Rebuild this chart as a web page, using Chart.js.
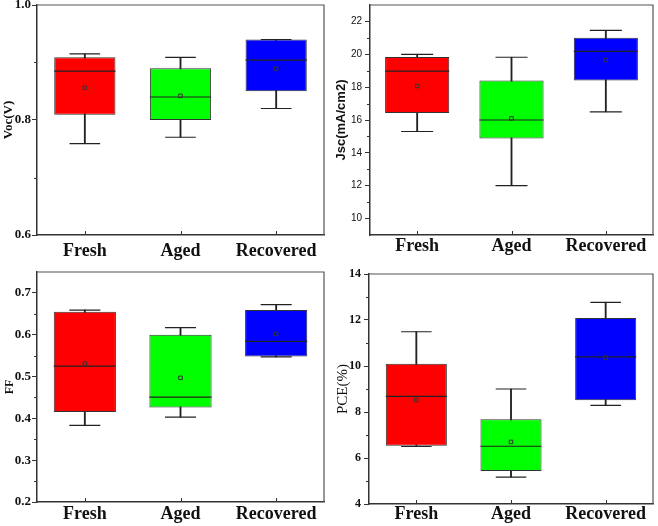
<!DOCTYPE html>
<html>
<head>
<meta charset="utf-8">
<script src="https://cdn.jsdelivr.net/npm/chart.js@4"></script>
<style>
  html, body { margin: 0; padding: 0; background: #fff; }
  #wrap { position: relative; width: 658px; height: 526px; }
  #wrap canvas { position: absolute; }
</style>
</head>
<body>
<div id="wrap">
  <canvas id="c-voc" width="329" height="263" style="left:0;top:0"></canvas>
  <canvas id="c-jsc" width="329" height="263" style="left:329px;top:0"></canvas>
  <canvas id="c-ff" width="329" height="263" style="left:0;top:263px"></canvas>
  <canvas id="c-pce" width="329" height="263" style="left:329px;top:263px"></canvas>
</div>
<script>
const categories = ['Fresh', 'Aged', 'Recovered'];

// Voc (V)
const vocMin = [0.759, 0.770, 0.820];
const vocQ1 = [0.809, 0.800, 0.850];
const vocMedian = [0.885, 0.840, 0.904];
const vocQ3 = [0.909, 0.890, 0.940];
const vocMax = [0.915, 0.909, 0.940];
const vocMean = [0.856, 0.842, 0.889];
const vocTicks = [0.6, 0.8, 1.0];
const vocMinor = [0.7, 0.9];

// Jsc (mA/cm2)
const jscMin = [15.3, 12.0, 16.5];
const jscQ1 = [16.42, 14.88, 18.4];
const jscMedian = [18.98, 16.0, 20.18];
const jscQ3 = [19.84, 18.4, 21.0];
const jscMax = [20.0, 19.82, 21.45];
const jscMean = [18.07, 16.1, 19.66];
const jscTicks = [10, 12, 14, 16, 18, 20, 22];
const jscMinor = [11, 13, 15, 17, 19, 21];

// FF
const ffMin = [0.383, 0.403, 0.547];
const ffQ1 = [0.415, 0.426, 0.548];
const ffMedian = [0.525, 0.451, 0.584];
const ffQ3 = [0.655, 0.600, 0.659];
const ffMax = [0.659, 0.617, 0.672];
const ffMean = [0.531, 0.497, 0.602];
const ffTicks = [0.2, 0.3, 0.4, 0.5, 0.6, 0.7];
const ffMinor = [0.25, 0.35, 0.45, 0.55, 0.65];

// PCE (%)
const pceMin = [6.5, 5.17, 8.29];
const pceQ1 = [6.53, 5.43, 8.51];
const pceMedian = [8.68, 6.51, 10.40];
const pceQ3 = [10.10, 7.68, 12.09];
const pceMax = [11.49, 9.0, 12.77];
const pceMean = [8.52, 6.70, 10.36];
const pceTicks = [4, 6, 8, 10, 12, 14];
const pceMinor = [5, 7, 9, 11, 13];

const boxColors = ['#ff0000', '#00ff00', '#0000ff'];
const serif = '"Liberation Serif", "Times New Roman", serif';
const sans = '"Liberation Sans", Arial, sans-serif';

const zip = (a, b) => a.map((v, i) => [v, b[i]]);

// top/right frame, minor y ticks, inward x ticks
const decor = {
  id: 'decor',
  afterDraw(chart, args, opts) {
    const { ctx, chartArea: a, scales: { x, y } } = chart;
    ctx.save();
    ctx.strokeStyle = '#555';
    ctx.lineWidth = 1.2;
    ctx.beginPath();
    ctx.moveTo(a.left, a.top);
    ctx.lineTo(a.right, a.top);
    ctx.lineTo(a.right, a.bottom);
    ctx.stroke();
    ctx.strokeStyle = '#333';
    ctx.lineWidth = 1;
    ctx.beginPath();
    opts.minor.forEach((v) => {
      const py = Math.round(y.getPixelForValue(v)) + 0.5;
      ctx.moveTo(a.left - 3, py);
      ctx.lineTo(a.left, py);
    });
    categories.forEach((c, i) => {
      const px = Math.round(x.getPixelForValue(i)) + 0.5;
      ctx.moveTo(px, a.bottom);
      ctx.lineTo(px, a.bottom - 4);
    });
    ctx.stroke();
    ctx.restore();
  },
};

function makePanel(canvasId, s, p) {
  const halfBox = (c) => {
    const x = c.chart.scales.x;
    return x ? x.width / categories.length * p.boxPct / 2 : 30;
  };
  return new Chart(document.getElementById(canvasId), {
    type: 'bar',
    data: {
      labels: categories,
      datasets: [
        {
          data: zip(s.min, s.max),
          backgroundColor: '#222',
          barThickness: 1.2,
          grouped: false,
          order: 5,
        },
        {
          data: zip(s.q1, s.q3),
          backgroundColor: boxColors,
          borderColor: '#333',
          borderWidth: 1,
          borderSkipped: false,
          barPercentage: 1,
          categoryPercentage: p.boxPct,
          grouped: false,
          order: 4,
        },
        {
          type: 'line', data: s.max, showLine: false, order: 3,
          pointStyle: 'line', pointRadius: (c) => halfBox(c) / 2,
          pointBorderColor: '#222', pointBorderWidth: 1.2,
        },
        {
          type: 'line', data: s.min, showLine: false, order: 3,
          pointStyle: 'line', pointRadius: (c) => halfBox(c) / 2,
          pointBorderColor: '#222', pointBorderWidth: 1.2,
        },
        {
          type: 'line', data: s.median, showLine: false, order: 2,
          pointStyle: 'line', pointRadius: halfBox,
          pointBorderColor: '#222', pointBorderWidth: 1.2,
        },
        {
          type: 'line', data: s.mean, showLine: false, order: 1,
          pointStyle: 'rect', pointRadius: 2.5,
          pointBackgroundColor: 'rgba(0,0,0,0)',
          pointBorderColor: '#333', pointBorderWidth: 1,
        },
      ],
    },
    options: {
      responsive: false,
      animation: false,
      events: [],
      layout: { padding: { left: 0, right: p.right, top: p.top, bottom: 0 } },
      plugins: {
        legend: { display: false },
        tooltip: { enabled: false },
        decor: { minor: s.minor },
      },
      scales: {
        x: {
          offset: true,
          grid: { display: false },
          border: { display: true, color: '#333', width: 1.5 },
          ticks: {
            color: '#111',
            font: { family: serif, size: 18, weight: 'bold' },
            padding: p.xPad,
            maxRotation: 0,
            minRotation: 0,
            autoSkip: false,
          },
          afterFit: (scale) => {
            scale.height = p.bottom;
            scale.paddingLeft = 0;
            scale.paddingRight = 0;
          },
        },
        y: {
          min: p.yMin,
          max: p.yMax,
          grid: { display: true, drawOnChartArea: false, drawTicks: true, tickLength: 5, tickColor: '#333', tickWidth: 1 },
          border: { display: true, color: '#333', width: 1.5 },
          ticks: {
            color: '#111',
            font: p.tickFont,
            padding: p.yPad,
            callback: (v) => (p.decimals ? Number(v).toFixed(p.decimals) : v),
          },
          afterBuildTicks: (scale) => {
            scale.ticks = s.ticks.map((v) => ({ value: v }));
          },
          afterFit: (scale) => {
            scale.width = p.left;
            scale.paddingTop = 0;
            scale.paddingBottom = 0;
          },
          title: {
            display: true,
            text: p.title,
            color: '#111',
            font: p.titleFont,
            padding: { top: p.titlePad, bottom: 0 },
          },
        },
      },
    },
    plugins: [decor],
  });
}

makePanel('c-voc',
  { min: vocMin, q1: vocQ1, median: vocMedian, q3: vocQ3, max: vocMax, mean: vocMean, ticks: vocTicks, minor: vocMinor },
  { left: 37, right: 4, top: 5, bottom: 28, boxPct: 0.64, yMin: 0.6, yMax: 1.0, decimals: 1, xPad: -2, yPad: 1,
    tickFont: { family: serif, size: 13, weight: 'bold' },
    title: 'Voc(V)', titleFont: { family: serif, size: 13, weight: 'bold' }, titlePad: 1 });

makePanel('c-jsc',
  { min: jscMin, q1: jscQ1, median: jscMedian, q3: jscQ3, max: jscMax, mean: jscMean, ticks: jscTicks, minor: jscMinor },
  { left: 41, right: 4, top: 5, bottom: 28, boxPct: 0.68, yMin: 9, yMax: 23, decimals: 0, xPad: -7, yPad: 3,
    tickFont: { family: sans, size: 10 },
    title: 'Jsc(mA/cm2)', titleFont: { family: sans, size: 13, weight: 'bold' }, titlePad: 5 });

makePanel('c-ff',
  { min: ffMin, q1: ffQ1, median: ffMedian, q3: ffQ3, max: ffMax, mean: ffMean, ticks: ffTicks, minor: ffMinor },
  { left: 37, right: 5, top: 9, bottom: 24, boxPct: 0.65, yMin: 0.2, yMax: 0.75, decimals: 1, xPad: -6, yPad: 1,
    tickFont: { family: serif, size: 13, weight: 'bold' },
    title: 'FF', titleFont: { family: serif, size: 12, weight: 'bold' }, titlePad: 3 });

makePanel('c-pce',
  { min: pceMin, q1: pceQ1, median: pceMedian, q3: pceQ3, max: pceMax, mean: pceMean, ticks: pceTicks, minor: pceMinor },
  { left: 40, right: 4, top: 11, bottom: 22, boxPct: 0.645, yMin: 4, yMax: 14, decimals: 0, xPad: -8, yPad: 3,
    tickFont: { family: serif, size: 12, weight: 'bold' },
    title: 'PCE(%)', titleFont: { family: serif, size: 15 }, titlePad: 5 });
</script>
</body>
</html>
